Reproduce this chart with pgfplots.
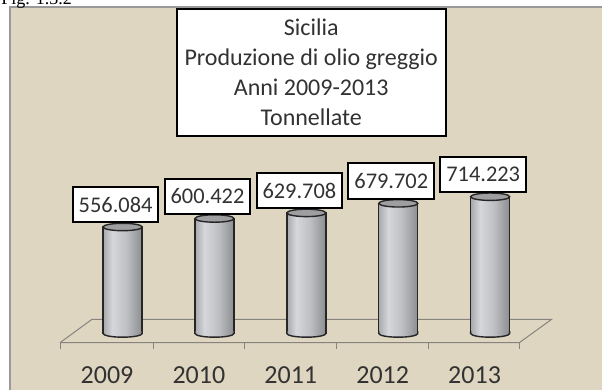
\documentclass[border=0pt]{standalone}
\usepackage{pgfplots}
\pgfplotsset{compat=1.18}
\usepackage{fontspec}
\setmainfont{Carlito}
\newfontfamily\figfont{Liberation Serif}
\definecolor{bg}{RGB}{222,214,193}
\definecolor{floorline}{RGB}{135,132,125}
\definecolor{cylA}{RGB}{168,169,173}
\definecolor{cylB}{RGB}{214,215,218}
\definecolor{cylC}{RGB}{190,191,195}
\definecolor{cylD}{RGB}{140,141,145}
\definecolor{capgray}{RGB}{158,158,160}
\definecolor{txt}{RGB}{50,50,50}
\pgfdeclarehorizontalshading{cyl}{100bp}{color(0bp)=(cylA); color(25bp)=(cylA); color(37bp)=(cylB); color(55bp)=(cylC); color(75bp)=(cylD); color(100bp)=(cylD)}
\pgfdeclareplotmark{cyltop}{%
  \pgfpathellipse{\pgfpointorigin}{\pgfqpoint{9.75pt}{0pt}}{\pgfqpoint{0pt}{1.85pt}}%
  \pgfusepathqfillstroke}
\pgfdeclareplotmark{cylbot}{%
  \pgfpathmoveto{\pgfqpoint{-9.75pt}{1.2pt}}%
  \pgfpathlineto{\pgfqpoint{-9.75pt}{0pt}}%
  \pgfpatharc{180}{360}{9.75pt and 1.85pt}%
  \pgfpathlineto{\pgfqpoint{9.75pt}{1.2pt}}%
  \pgfpathclose
  \pgfshadepath{cyl}{0}%
  \pgfusepath{discard}%
  \pgfpathmoveto{\pgfqpoint{-9.75pt}{1.2pt}}%
  \pgfpathlineto{\pgfqpoint{-9.75pt}{0pt}}%
  \pgfpatharc{180}{360}{9.75pt and 1.85pt}%
  \pgfpathlineto{\pgfqpoint{9.75pt}{1.2pt}}%
  \pgfusepathqstroke}
\pgfplotsset{cylbar/.style={ybar, bar shift=0pt, bar width=19.5pt, draw=black!85, line width=0.7pt, shade, shading=cyl}}
\begin{document}
\begin{tikzpicture}
\useasboundingbox (0,0) rectangle (301pt,195pt);
\fill[white] (0,0) rectangle (301pt,195pt);
\fill[bg] (5pt,0) rectangle (301pt,191.5pt);
\draw[gray!80, line width=0.6pt] (5pt,0) -- (5pt,191.5pt) -- (301pt,191.5pt);
\node[anchor=base west, inner sep=0pt, font=\figfont\fontsize{9}{10}\selectfont] at (0.5pt,192.6pt) {Fig. 1.3.2};
\begin{axis}[
  at={(38.33pt,28.25pt)}, anchor=south west,
  scale only axis, width=229.75pt, height=95.75pt,
  xmin=-0.5, xmax=4.5, ymin=0, ymax=1000,
  clip=false,
  axis lines*=left,
  axis line style={draw=none},
  major tick length=0pt,
  ytick=\empty,
  xtick={0,1,2,3,4},
  xticklabels={2009,2010,2011,2012,2013},
  xticklabel style={anchor=base, yshift=-25.25pt, xshift=-7.8pt, text=txt, font=\fontsize{13}{15}\selectfont},
  title={Sicilia\\Produzione di olio greggio\\Anni 2009-2013\\Tonnellate},
  title style={at={(axis description cs:0.5105,1.30)}, anchor=center, yshift=0pt, draw=black, line width=1pt, fill=white, align=center, minimum width=134.5pt, minimum height=63.5pt, inner xsep=2pt, text=txt, font=\fontsize{12}{15}\selectfont},
]
% floor
\addplot[draw=floorline, line width=0.5pt, mark=none] coordinates {(-0.681,-48) (-0.333,74.2) (4.669,74.2) (4.317,-48) (-0.681,-48)};
\addplot[draw=floorline, line width=0.5pt, mark=none, unbounded coords=jump] coordinates {
  (0.334,-48) (0.334,-81) (nan,nan)
  (1.324,-48) (1.324,-81) (nan,nan)
  (2.330,-48) (2.330,-81) (nan,nan)
  (3.326,-48) (3.326,-81) (nan,nan)
  (4.317,-48) (4.317,-81) (nan,nan)
  (-0.681,-48) (-0.681,-81)};
% cylinders (one plot per bar so that each gets its own shading)
\addplot[cylbar] coordinates {(0,556.084)};
\addplot[cylbar] coordinates {(1,600.422)};
\addplot[cylbar] coordinates {(2,629.708)};
\addplot[cylbar] coordinates {(3,679.702)};
\addplot[cylbar] coordinates {(4,714.223)};
\addplot[only marks, mark=cylbot, mark options={draw=black!85, line width=0.7pt}] coordinates {(0,0) (1,0) (2,0) (3,0) (4,0)};
\addplot[only marks, mark=cyltop, mark options={fill=capgray, draw=black!85, line width=0.7pt},
  point meta=explicit symbolic, nodes near coords,
  every node near coord/.append style={draw=black, line width=1pt, fill=white, text=txt, font=\fontsize{11.2}{13}\selectfont, inner xsep=3pt, inner ysep=0pt, minimum height=17.6pt, anchor=south, yshift=1.85pt, xshift=-3.5pt}]
  coordinates {(0,556.084)[556.084] (1,600.422)[600.422] (2,629.708)[629.708] (3,679.702)[679.702] (4,714.223)[714.223]};
\end{axis}
\end{tikzpicture}
\end{document}
